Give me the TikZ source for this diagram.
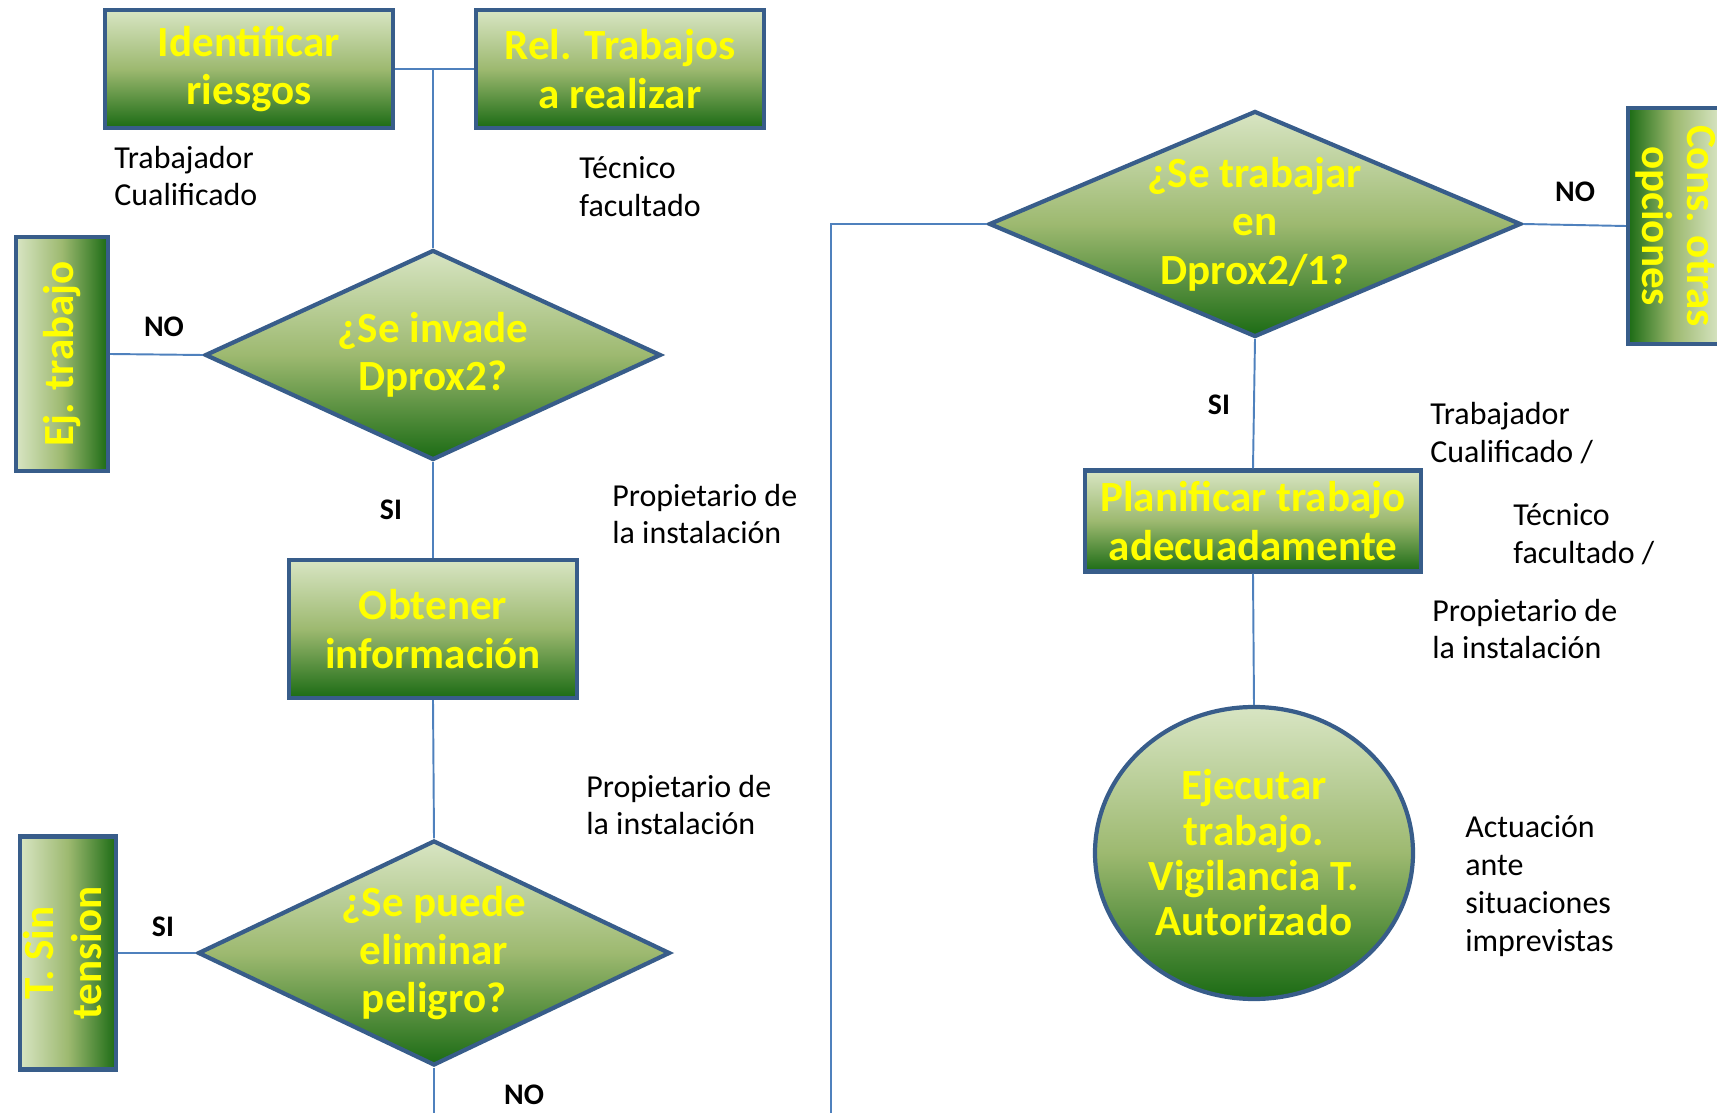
\documentclass[tikz,border=0pt]{standalone}
\usepackage{fontspec}
\setmainfont{Carlito}
\usepackage{graphicx}
\usetikzlibrary{positioning,shapes.geometric}
\definecolor{azul}{HTML}{385D8A}
\definecolor{azulclaro}{HTML}{4F81BD}
\definecolor{verdeclaro}{HTML}{D8E5C3}
\definecolor{verdemedio}{HTML}{9DB970}
\definecolor{verdeoscuro}{HTML}{1B6B14}
\definecolor{amarillo}{HTML}{FFFF00}
\tikzset{
  caja/.style={draw=azul,line width=2.4pt,top color=verdeclaro,bottom color=verdeoscuro,
               middle color=verdemedio,text=amarillo,align=center,inner sep=0pt,
               font=\fontsize{24.5}{27.5}\selectfont\bfseries},
  linea/.style={draw=azulclaro,line width=1.1pt},
}

\begin{document}
\begin{tikzpicture}[
  r/.style={caja,minimum width=5.76cm,minimum height=2.36cm},
  v/.style={caja,left color=verdeclaro,right color=verdeoscuro,middle color=verdemedio,
            minimum width=1.84cm,minimum height=4.68cm},
  d/.style={caja,diamond},
  txt/.style={anchor=west,align=left,inner sep=0pt,font=\fontsize{18.2}{21.6}\selectfont},
  etq/.style={inner sep=0pt,font=\fontsize{17}{20}\selectfont\bfseries}]
  \useasboundingbox (0,0) rectangle (34.34,-22.26);
  % columna izquierda
  \node[r] (ident) at (4.98,-1.38) {Identificar\\riesgos};
  \node[r] (rel) at (12.40,-1.38) {Rel. Trabajos\\a realizar};
  \node[d,aspect=2.17,minimum width=9.12cm,minimum height=4.20cm] (dec1) at (8.66,-7.10) {¿Se invade\\Dprox2?};
  \node[v] (ej) at (1.24,-7.08) {\rotatebox{90}{Ej. trabajo}};
  \node[r,minimum height=2.76cm] (obt) at (8.66,-12.58) {Obtener\\información};
  \node[d,aspect=2.1,minimum width=9.44cm,minimum height=4.50cm] (dec2) at (8.68,-19.06) {¿Se puede\\eliminar\\peligro?};
  \node[v,minimum height=4.66cm] (tsin) at (1.36,-19.06) {\rotatebox{90}{\begin{tabular}{@{}c@{}}T. Sin\\tension\end{tabular}}};
  % columna derecha
  \node[d,aspect=2.35,minimum width=10.64cm,minimum height=4.52cm] (dec3) at (25.10,-4.48) {¿Se trabajar\\en\\Dprox2/1?};
  \node[v,left color=verdeoscuro,right color=verdeclaro,middle color=verdemedio,minimum height=4.72cm,
        font=\fontsize{24.5}{25.5}\selectfont\bfseries] (cons) at (33.48,-4.52)
    {\rotatebox{-90}{\begin{tabular}{@{}c@{}}Cons. otras\\opciones\end{tabular}}};
  \node[r,minimum width=6.72cm,minimum height=2.02cm] (plan) at (25.06,-10.42) {Planificar trabajo\\adecuadamente};
  \node[caja,ellipse,minimum width=6.36cm,minimum height=5.84cm,font=\fontsize{24.5}{25.8}\selectfont\bfseries] (ejec) at (25.08,-17.06)
    {Ejecutar\\trabajo.\\Vigilancia T.\\Autorizado};
  % responsables
  \node[txt] (t1) at (2.28,-3.52) {Trabajador\\Cualificado};
  \node[txt] (t2) at (11.58,-3.74) {Técnico\\facultado};
  \node[txt] (t3) at (12.24,-10.28) {Propietario de\\la instalación};
  \node[txt] (t4) at (11.72,-16.10) {Propietario de\\la instalación};
  \node[txt] (t5) at (28.60,-8.66) {Trabajador\\Cualificado /};
  \node[txt] (t6) at (30.26,-10.68) {Técnico\\facultado /};
  \node[txt] (t7) at (28.64,-12.58) {Propietario de\\la instalación};
  \node[txt] (t8) at (29.30,-17.72) {Actuación\\ante\\situaciones\\imprevistas};
  % respuestas
  \node[etq] (no1) at (3.28,-6.54) {NO};
  \node[etq] (si1) at (7.82,-10.20) {SI};
  \node[etq] (si2) at (3.26,-18.54) {SI};
  \node[etq] (no2) at (10.48,-21.90) {NO};
  \node[etq] (no3) at (31.50,-3.84) {NO};
  \node[etq] (si3) at (24.38,-8.10) {SI};
  % conexiones
  \coordinate (union) at (dec1.north |- ident.east);
  \coordinate (fin1) at (dec2.south |- 0,-22.26);
  \coordinate (esquina) at (16.62,-4.48);
  \coordinate (fin2) at (16.62,-22.26);
  \draw[linea] (ident.east) -- (rel.west);
  \draw[linea] (union) -- (dec1.north);
  \draw[linea] (ej.east) -- (dec1.west);
  \draw[linea] (dec1.south) -- (obt.north);
  \draw[linea] (obt.south) -- (dec2.north);
  \draw[linea] (tsin.east) -- (dec2.west);
  \draw[linea] (dec2.south) -- (fin1);
  \draw[linea] (dec3.west) -- (esquina) -- (fin2);
  \draw[linea] (dec3.east) -- (cons.west);
  \draw[linea] (dec3.south) -- (plan.north);
  \draw[linea] (plan.south) -- (ejec.north);
\end{tikzpicture}
\end{document}
